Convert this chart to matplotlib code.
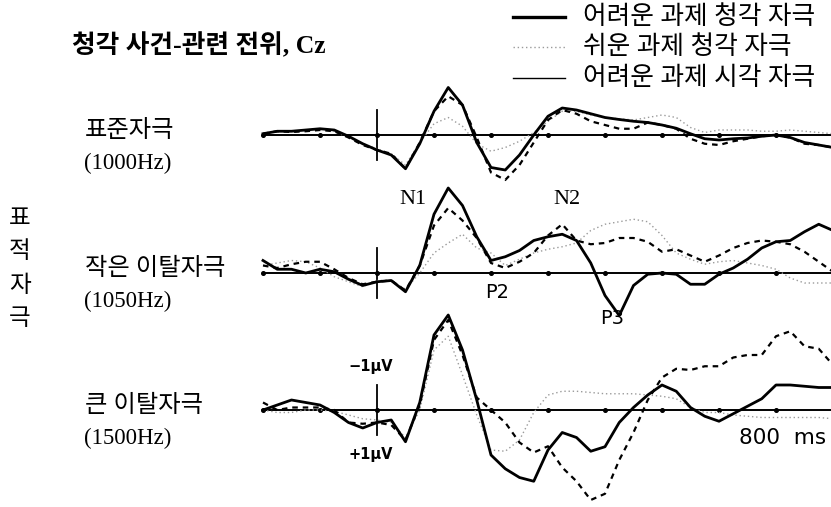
import numpy as np
import matplotlib
matplotlib.use("Agg")
import matplotlib.pyplot as plt

# sample times (ms) and averaged waveforms (µV, positive plotted downward)
times = np.arange(-200, 825, 25)
tick_ms = [-200, -100, 0, 100, 200, 300, 400, 500, 600, 700, 800]

conditions = ["표준자극", "작은 이탈자극", "큰 이탈자극"]
freqs = ["(1000Hz)", "(1050Hz)", "(1500Hz)"]
series_names = ["어려운 과제 청각 자극", "쉬운 과제 청각 자극", "어려운 과제 시각 자극"]
peak_names = ["N1", "N2", "P2", "P3"]

# hard task, auditory
hard_aud = [
    [-0.05, -0.15, -0.15, -0.2, -0.25, -0.2, 0.05, 0.35, 0.6, 0.8, 1.35, 0.35, -0.95, -1.9,
     -1.2, 0.3, 1.3, 1.4, 0.8, 0.0, -0.75, -1.08, -1.0, -0.85, -0.7, -0.62, -0.55, -0.5,
     -0.4, -0.27, -0.05, 0.15, 0.2, 0.15, 0.12, 0.05, 0.0, 0.1, 0.3, 0.4, 0.5],
    [-0.5, -0.15, -0.15, 0.0, -0.15, -0.05, 0.25, 0.5, 0.35, 0.3, 0.75, -0.3, -2.35, -3.4,
     -2.7, -1.45, -0.5, -0.65, -0.9, -1.3, -1.45, -1.55, -1.3, -0.4, 0.9, 1.7, 0.5, 0.05,
     0.0, 0.05, 0.45, 0.45, 0.05, -0.2, -0.55, -1.0, -1.25, -1.3, -1.65, -1.95, -1.7],
    [0.0, -0.2, -0.4, -0.3, -0.2, 0.1, 0.5, 0.72, 0.5, 0.4, 1.27, -0.3, -3.0, -3.8,
     -2.4, -0.4, 1.8, 2.35, 2.7, 2.85, 1.6, 0.9, 1.1, 1.65, 1.47, 0.5, -0.1, -0.6,
     -1.0, -0.75, -0.1, 0.25, 0.45, 0.15, -0.15, -0.45, -1.0, -1.0, -0.95, -0.9, -0.9],
]

# easy task, auditory
easy_aud = [
    [-0.05, -0.15, -0.15, -0.2, -0.25, -0.15, 0.1, 0.35, 0.55, 0.75, 1.2, 0.3, -0.45, -0.7,
     -0.35, 0.35, 0.65, 0.5, 0.25, -0.1, -0.55, -0.95, -0.95, -0.8, -0.7, -0.65, -0.6, -0.7,
     -0.8, -0.7, -0.3, -0.1, -0.2, -0.2, -0.2, -0.15, -0.15, -0.2, -0.15, -0.1, -0.05],
    [-0.3, -0.4, -0.5, -0.45, -0.2, 0.15, 0.35, 0.55, 0.3, 0.3, 0.65, 0.0, -0.8, -1.2,
     -1.55, -1.0, -0.8, -0.3, -0.55, -0.8, -0.95, -1.05, -1.2, -1.7, -1.95, -2.05, -2.15, -2.05,
     -1.5, -0.8, -0.55, -0.35, -0.45, -0.5, -0.4, -0.3, -0.15, 0.2, 0.4, 0.4, 0.4],
    [0.0, 0.1, 0.1, 0.0, 0.0, 0.05, 0.2, 0.35, 0.4, 0.5, 1.1, 0.0, -2.4, -2.95,
     -1.4, 0.2, 1.6, 1.65, 1.2, 0.1, -0.6, -0.75, -0.75, -0.7, -0.65, -0.65, -0.65, -0.6,
     -0.55, -0.45, -0.1, 0.1, 0.1, 0.2, 0.25, 0.3, 0.3, 0.3, 0.3, 0.3, 0.35],
]

# hard task, visual
hard_vis = [
    [-0.05, -0.15, -0.12, -0.15, -0.2, -0.15, 0.1, 0.4, 0.6, 0.75, 1.35, 0.3, -0.95, -1.55,
     -1.2, 0.1, 1.5, 1.8, 1.2, 0.3, -0.6, -1.0, -0.85, -0.55, -0.4, -0.25, -0.25, -0.5,
     -0.4, -0.25, 0.15, 0.35, 0.4, 0.25, 0.15, 0.05, 0.0, 0.1, 0.35, 0.4, 0.5],
    [-0.3, -0.2, -0.35, -0.45, -0.45, -0.15, 0.2, 0.45, 0.35, 0.3, 0.7, -0.3, -1.9, -2.6,
     -2.1, -1.4, -0.4, -0.2, -0.45, -0.8, -1.5, -1.95, -1.3, -1.15, -1.2, -1.4, -1.4, -1.25,
     -0.85, -0.95, -0.7, -0.45, -0.7, -1.0, -1.2, -1.3, -1.25, -1.15, -0.85, -0.45, -0.05],
    [-0.3, 0.0, -0.1, -0.1, -0.1, 0.0, 0.5, 0.55, 0.5, 0.6, 1.2, -0.2, -2.8, -3.6,
     -2.2, -0.5, 0.0, 0.5, 1.3, 1.7, 1.45, 2.3, 2.85, 3.6, 3.35, 2.0, 0.9, -0.4,
     -1.3, -1.65, -1.6, -1.75, -1.75, -2.1, -2.2, -2.2, -2.95, -3.15, -2.55, -2.45, -1.8],
]

W, H = 831, 507
fig = plt.figure(figsize=(W / 100, H / 100), dpi=100)
fig.patch.set_facecolor("white")

# overlay in pixel coordinates for labels and the key
ov = fig.add_axes([0, 0, 1, 1])
ov.set_xlim(0, W)
ov.set_ylim(H, 0)
ov.axis("off")

kr = ["Liberation Serif", "Noto Sans CJK KR"]
dot_grey = "#9a9a9a"

baselines = [135, 273, 410]
row_h = 136
uv_half = row_h / 50.0  # 25 px per µV

for i, yb in enumerate(baselines):
    ax = fig.add_axes([261 / W, (H - yb - row_h / 2) / H, 570 / W, row_h / H])
    ax.set_xlim(-203.5, 796.5)
    ax.set_ylim(uv_half, -uv_half)
    ax.axis("off")
    ax.plot([tick_ms[0], tick_ms[-1]], [0, 0], color="black", lw=1.4, clip_on=False, zorder=1)
    ax.plot(tick_ms, np.zeros(len(tick_ms)), "o", color="black", ms=2.6, clip_on=False, zorder=1)
    ax.plot([0, 0], [-1, 1], color="black", lw=1.3, clip_on=False, zorder=1)
    ax.plot(times, easy_aud[i], color=dot_grey, lw=1.0, ls=(0, (1, 2)), clip_on=False, zorder=2)
    ax.plot(times, hard_vis[i], color="black", lw=1.6, ls=(0, (2.5, 2.2)), clip_on=False, zorder=3)
    ax.plot(times, hard_aud[i], color="black", lw=2.0, clip_on=False, zorder=4)

    ov.text(85, yb - 4, conditions[i], family=kr, fontsize=17.5, va="center", ha="left")
    ov.text(84, yb + 28, freqs[i], family=kr, fontsize=16.5, va="center", ha="left")

# title
ov.text(72, 46, "청각 사건-관련 전위, Cz", family=kr, fontsize=18.5, fontweight="bold",
        va="center", ha="left")

# vertical side label
for k, ch in enumerate("표적자극"):
    ov.text(20, 219 + k * 33.5, ch, family=kr, fontsize=17, va="center", ha="center")

# component labels
ov.text(413, 199, peak_names[0], family="Liberation Serif", fontsize=16, ha="center", va="center")
ov.text(567, 199, peak_names[1], family="Liberation Serif", fontsize=16, ha="center", va="center")
ov.text(497, 292, peak_names[2], family="DejaVu Sans", fontsize=14, ha="center", va="center")
ov.text(612, 318, peak_names[3], family="DejaVu Sans", fontsize=14, ha="center", va="center")

# scale bar labels and time mark
ov.text(371, 366, "−1μV", family="DejaVu Sans", fontweight="bold", fontsize=10.5,
        ha="center", va="center")
ov.text(371, 455, "+1μV", family="DejaVu Sans", fontweight="bold", fontsize=10.5,
        ha="center", va="center")
ov.text(826, 438, "800  ms", family="DejaVu Sans", fontsize=15.5, ha="right", va="center")

# key
key_y = [17, 47, 78]
ov.plot([513, 565], [key_y[0]] * 2, color="black", lw=2.4)
ov.plot([513, 565], [key_y[1]] * 2, color=dot_grey, lw=1.0, ls=(0, (1, 2)))
ov.plot([513, 565], [key_y[2]] * 2, color="black", lw=1.0)
for name, y in zip(series_names, key_y):
    ov.text(583, y, name, family=kr, fontsize=18.5, va="center", ha="left")

fig.savefig("out.png", dpi=100, facecolor="white")
